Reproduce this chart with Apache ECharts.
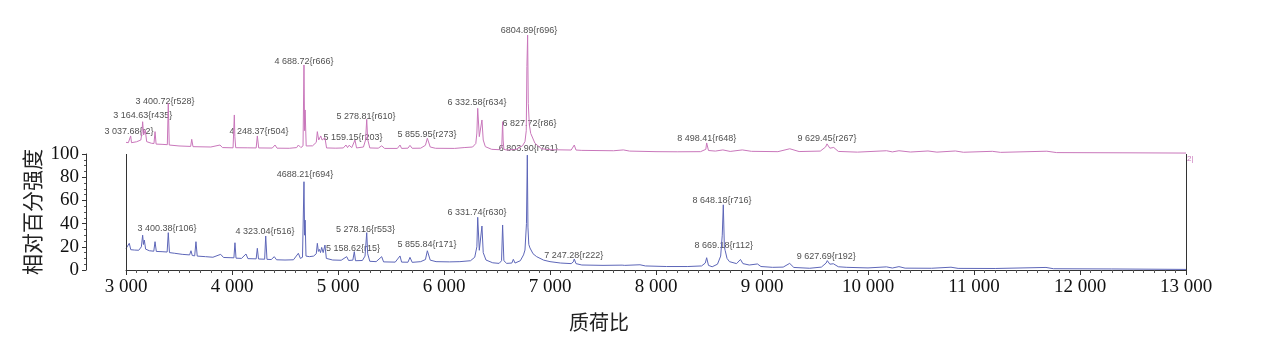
<!DOCTYPE html>
<html>
<head>
<meta charset="utf-8">
<script src="https://cdn.jsdelivr.net/npm/echarts@6/dist/echarts.min.js"></script>
<style>
  html, body { margin: 0; padding: 0; background: #fff; }
  #main { width: 1269px; height: 353px; }
</style>
</head>
<body>
<div id="main"></div>
<script>
// lower spectrum (blue), relative intensity 0-100, [m/z, intensity]
var blueSpectrum = [
    [3000, 18.5], [3012, 18], [3031, 23], [3045, 17.5], [3080, 17.2], [3120, 17], [3145, 20], [3157, 30],
    [3165, 22], [3173, 25.8], [3185, 18], [3220, 16.6], [3262, 16.2], [3274, 24.4], [3286, 16], [3340, 15.8],
    [3388, 15.5], [3399, 32.2], [3410, 15], [3460, 14.4], [3530, 13.5], [3600, 13], [3613, 16.6], [3625, 12.5],
    [3648, 12.2], [3660, 24.4], [3672, 12], [3750, 11.5], [3820, 11], [3893, 13.5], [3920, 10.8], [3990, 10.6],
    [4018, 10.5], [4028, 23.5], [4038, 10.2], [4090, 10], [4132, 13.8], [4150, 9.8], [4228, 9.6], [4239, 18.7],
    [4250, 9.5], [4308, 9.3], [4318, 29.3], [4330, 9.2], [4370, 9], [4399, 11.5], [4420, 8.8], [4500, 8.6],
    [4580, 8.8], [4626, 14.4], [4645, 10], [4665, 11], [4679, 76.1], [4685, 30], [4690, 43], [4698, 12],
    [4730, 11.5], [4770, 12], [4795, 14], [4805, 23], [4815, 16], [4824, 17.8], [4835, 15], [4846, 19.5],
    [4860, 15], [4877, 21.5], [4890, 10], [4950, 8.6], [5030, 8.4], [5082, 11.5], [5100, 8.2], [5140, 8.5],
    [5154, 15.8], [5165, 8], [5230, 8.2], [5255, 12], [5271, 32.2], [5280, 14], [5300, 7.5], [5360, 7.2],
    [5412, 11.5], [5430, 7], [5540, 6.8], [5585, 12.1], [5600, 6.8], [5660, 6.7], [5679, 10.9], [5700, 6.6],
    [5780, 7.2], [5825, 9], [5843, 16.6], [5870, 8.5], [5925, 7.2], [6050, 7], [6150, 7.2], [6250, 8],
    [6290, 11], [6310, 20], [6318, 45.4], [6333, 17], [6358, 37.9], [6370, 15], [6396, 8.6], [6460, 6.2],
    [6520, 5.7], [6543, 8], [6553, 38.8], [6565, 8], [6591, 5.7], [6640, 6], [6654, 9.2], [6670, 6],
    [6720, 8], [6750, 13], [6764, 17.2], [6778, 40], [6786, 99], [6792, 37], [6800, 22], [6811, 19],
    [6840, 14], [6874, 11.5], [6940, 8.5], [7000, 7.2], [7100, 6], [7200, 5.5], [7220, 7], [7229, 9.5],
    [7245, 5.5], [7300, 4.3], [7500, 4], [7680, 4.2], [7692, 5.5], [7705, 4], [7849, 4.5], [7900, 3.5],
    [8100, 3], [8300, 3], [8430, 3.5], [8465, 6], [8478, 10.6], [8495, 4], [8530, 2.8], [8580, 5],
    [8610, 12], [8625, 30], [8635, 56.2], [8645, 20], [8652, 17], [8670, 10], [8693, 7.2], [8760, 5.5],
    [8797, 9.1], [8820, 5.5], [8880, 4.3], [8957, 5.2], [8990, 3], [9100, 2.3], [9200, 2.5], [9261, 5.7],
    [9300, 2.2], [9450, 1.5], [9560, 2.5], [9605, 6], [9616, 8.1], [9640, 5], [9673, 5.4], [9720, 2.8],
    [9800, 2.3], [10000, 1.8], [10174, 2.7], [10230, 1.7], [10292, 2.9], [10350, 1.6], [10600, 1.5], [10783, 2.4],
    [10850, 1.4], [11200, 1.3], [11679, 2.2], [11750, 1.1], [12300, 0.9], [13000, 0.5]
];

// upper spectrum (pink), drawn in its own band above the lower one
var pinkSpectrum = [
    [3000, 10], [3022, 9.7], [3036, 10], [3044, 15.5], [3052, 9.7], [3100, 10.5], [3140, 12], [3150, 18],
    [3157, 27.7], [3166, 16.3], [3182, 20.6], [3195, 10.6], [3240, 9.2], [3264, 9], [3274, 19.2], [3284, 8.5],
    [3340, 8.3], [3390, 8], [3399, 43.5], [3408, 7.7], [3500, 6.9], [3610, 6.5], [3620, 12.6], [3632, 6.3],
    [3800, 6], [3887, 7.7], [3910, 5.5], [4010, 5.3], [4022, 33.5], [4027, 14.9], [4035, 5.4], [4150, 5.3],
    [4228, 5.2], [4239, 15.5], [4252, 5.2], [4380, 5.1], [4406, 7.7], [4425, 5], [4540, 4.9], [4610, 5.5],
    [4626, 7.7], [4650, 5.5], [4670, 7], [4679, 76.4], [4685, 20], [4690, 37.8], [4700, 6.9], [4760, 7],
    [4795, 10], [4805, 19.2], [4818, 12], [4837, 15.5], [4850, 12], [4877, 14], [4892, 5.2], [4980, 5],
    [5050, 5.2], [5075, 7.7], [5090, 5.5], [5105, 7.5], [5130, 5.5], [5160, 12], [5175, 5.2], [5240, 6],
    [5260, 12], [5271, 29.8], [5280, 12.6], [5300, 5.2], [5380, 5], [5412, 7], [5440, 4.8], [5560, 4.8],
    [5585, 7.7], [5600, 4.8], [5660, 5], [5679, 7.4], [5700, 4.9], [5780, 5], [5825, 7.5], [5843, 13.5],
    [5870, 6], [5920, 4.9], [6100, 4.8], [6190, 5.5], [6270, 6], [6300, 9], [6310, 18], [6318, 39.2],
    [6333, 14.9], [6358, 29.2], [6370, 12], [6390, 6.3], [6450, 4], [6520, 3.7], [6545, 6], [6553, 27.7],
    [6558, 12], [6565, 4], [6590, 3.4], [6680, 4], [6740, 7], [6764, 10.6], [6776, 20], [6782, 75],
    [6789, 102], [6795, 43.5], [6805, 25], [6818, 17.7], [6858, 9.2], [6920, 4.5], [7000, 3.7], [7200, 3.4],
    [7218, 4.5], [7229, 7.7], [7245, 3.4], [7300, 3.1], [7600, 2.8], [7692, 3.5], [7750, 2.5], [8000, 2],
    [8200, 1.9], [8420, 2], [8470, 4], [8478, 9.5], [8495, 3], [8560, 2.5], [8631, 3.5], [8700, 2.2],
    [8814, 3.5], [8900, 2.3], [9150, 2], [9262, 4.5], [9350, 2.1], [9550, 2.5], [9600, 6], [9613, 8.7],
    [9640, 5], [9677, 5.6], [9720, 2.2], [9900, 1.6], [10175, 2.8], [10230, 1.8], [10292, 2.8], [10400, 1.7],
    [10566, 2.6], [10650, 1.6], [10824, 2.6], [10900, 1.5], [11173, 2.3], [11250, 1.4], [11687, 2.4], [11780, 1.2],
    [12500, 1], [13000, 0.8]
];

// peak annotations: [m/z, intensity, text]
var blueLabels = [
    [3387, 35.9, '3 400.38{r106}'],
    [4311, 33.0, '4 323.04{r516}'],
    [4689, 81.9, '4688.21{r694}'],
    [5142, 18.7, '5 158.62{r15}'],
    [5259, 35.1, '5 278.16{r553}'],
    [5840, 21.6, '5 855.84{r171}'],
    [6311, 49.7, '6 331.74{r630}'],
    [6795, 104.9, '6 803.90{r761}'],
    [7224, 12.9, '7 247.28{r222}'],
    [8623, 59.5, '8 648.18{r716}'],
    [8639, 20.7, '8 669.18{r112}'],
    [9607, 11.5, '9 627.69{r192}']
];

var pinkLabels = [
    [3028, 19.1, '3 037.68{r2}'],
    [3158, 32.9, '3 164.63{r435}'],
    [3368, 44.9, '3 400.72{r528}'],
    [4255, 19.7, '4 248.37{r504}'],
    [4679, 79.2, '4 688.72{r666}'],
    [5142, 14.3, '5 159.15{r203}'],
    [5264, 32.0, '5 278.81{r610}'],
    [5840, 16.3, '5 855.95{r273}'],
    [6311, 44.0, '6 332.58{r634}'],
    [6802, 105.8, '6804.89{r696}'],
    [6807, 25.8, '6 827.72{r86}'],
    [8478, 13.5, '8 498.41{r648}'],
    [9613, 13.3, '9 629.45{r267}']
];

var chartDom = document.getElementById('main');
var myChart = echarts.init(chartDom);
var option;

function thousands(v) {
    var s = String(v);
    return s.length > 3 ? s.slice(0, s.length - 3) + ' ' + s.slice(-3) : s;
}

var labelStyle = {
    show: true,
    position: 'inside',
    formatter: function (p) { return p.data[2]; },
    fontFamily: 'Liberation Sans',
    fontSize: 9,
    color: '#222'
};

option = {
    animation: false,
    grid: [
        { left: 126, width: 1060, top: 154, height: 116 },
        { left: 126, width: 1060, top: 20, height: 134 }
    ],
    xAxis: [
        {
            gridIndex: 0,
            type: 'value',
            min: 3000,
            max: 13000,
            interval: 1000,
            axisLine: { lineStyle: { color: '#333', width: 1 } },
            axisTick: { length: 5, lineStyle: { color: '#333' } },
            minorTick: { show: true, splitNumber: 10, length: 3, lineStyle: { color: '#555' } },
            splitLine: { show: false },
            axisLabel: {
                margin: 8,
                fontFamily: 'Liberation Serif',
                fontSize: 19,
                color: '#111',
                formatter: thousands
            }
        },
        {
            gridIndex: 1,
            type: 'value',
            min: 3000,
            max: 13000,
            show: false
        }
    ],
    yAxis: [
        {
            gridIndex: 0,
            type: 'value',
            min: 0,
            max: 100,
            interval: 20,
            offset: 40,
            name: '相对百分强度',
            nameLocation: 'middle',
            nameGap: 43,
            nameMoveOverlap: false,
            nameTextStyle: { fontFamily: 'Noto Sans CJK SC', fontSize: 21, color: '#222' },
            axisLine: { show: true, lineStyle: { color: '#333', width: 1 } },
            axisTick: { show: true, length: 4, lineStyle: { color: '#333' } },
            minorTick: { show: true, splitNumber: 4, length: 2, lineStyle: { color: '#555' } },
            splitLine: { show: false },
            axisLabel: {
                margin: 7,
                fontFamily: 'Liberation Serif',
                fontSize: 19,
                color: '#111'
            }
        },
        {
            gridIndex: 1,
            type: 'value',
            min: 0,
            max: 115,
            show: false
        }
    ],
    graphic: [
        {
            type: 'text',
            left: 569,
            top: 312,
            style: {
                text: '质荷比',
                font: '20px "Noto Sans CJK SC"',
                fill: '#222'
            }
        },
        {
            type: 'text',
            left: 1187,
            top: 155,
            style: {
                text: '2|',
                font: '8px "Liberation Sans"',
                fill: '#c977bb'
            }
        }
    ],
    series: [
        {
            name: 'upper',
            type: 'line',
            xAxisIndex: 1,
            yAxisIndex: 1,
            symbol: 'none',
            lineStyle: { color: '#c977bb', width: 1 },
            data: pinkSpectrum
        },
        {
            name: 'lower',
            type: 'line',
            xAxisIndex: 0,
            yAxisIndex: 0,
            symbol: 'none',
            lineStyle: { color: '#5d66b8', width: 1 },
            data: blueSpectrum,
            markLine: {
                silent: true,
                symbol: 'none',
                label: { show: false },
                lineStyle: { color: '#333', width: 1, type: 'solid' },
                data: [{ xAxis: 3000 }, { xAxis: 13000 }]
            }
        },
        {
            name: 'upperLabels',
            type: 'scatter',
            xAxisIndex: 1,
            yAxisIndex: 1,
            symbolSize: 0,
            clip: false,
            silent: true,
            label: labelStyle,
            data: pinkLabels
        },
        {
            name: 'lowerLabels',
            type: 'scatter',
            xAxisIndex: 0,
            yAxisIndex: 0,
            symbolSize: 0,
            clip: false,
            silent: true,
            label: labelStyle,
            data: blueLabels
        }
    ]
};

option && myChart.setOption(option);
</script>
</body>
</html>
